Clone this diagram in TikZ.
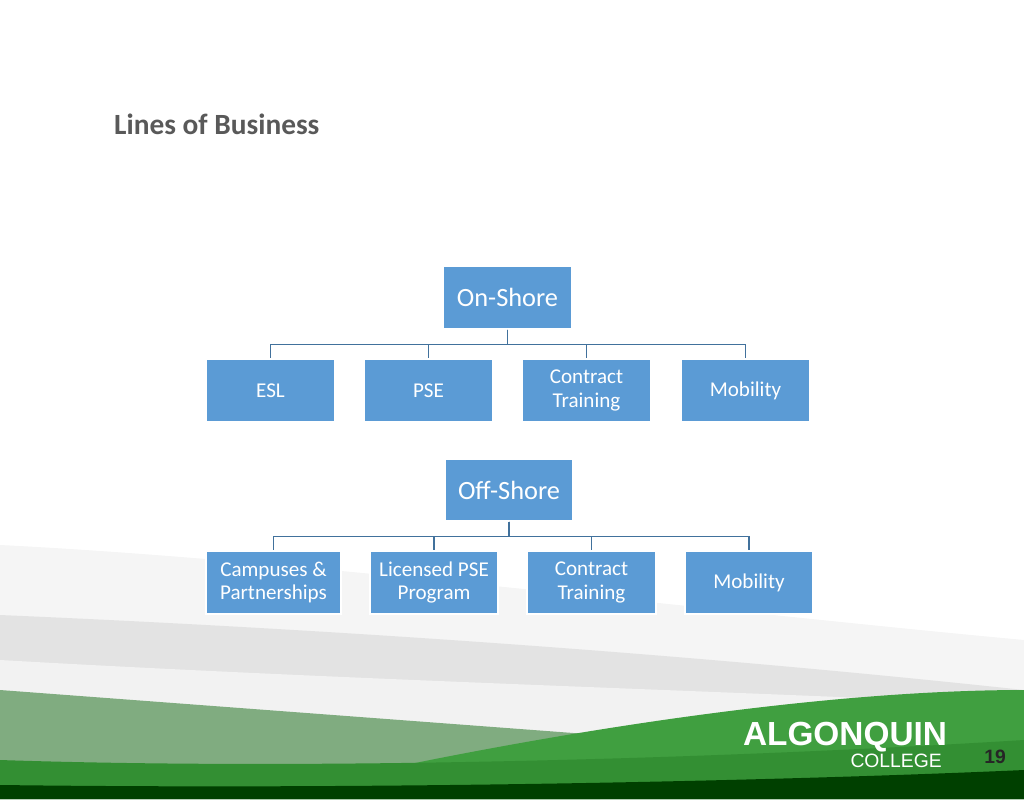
\documentclass[tikz,border=0pt]{standalone}
\usepackage{fontspec}
\setmainfont{Carlito}
\usepackage{tikz}

\begin{document}
\begin{tikzpicture}[x=0.02cm,y=-0.02cm,
	unit/.style={draw=white, line width=0.8pt, fill=boxblue, text=white, inner sep=0pt, align=center, font=\fontsize{12}{13.3}\selectfont},
	head/.style={unit, font=\fontsize{15}{17}\selectfont},
	link/.style={draw=lineblue, line width=0.8pt}
	]
	\definecolor{boxblue}{HTML}{5B9BD5}
	\definecolor{lineblue}{HTML}{41719C}
	\definecolor{titlegray}{HTML}{595959}
	
	\useasboundingbox (0,0) rectangle (1024,799);
	
	%-----------------------
	% Background waves
	%-----------------------
	\fill[gray!8] (0,545) .. controls (300,560) and (700,610) .. (1024,640) -- (1024,799) -- (0,799) -- cycle;
	\fill[gray!22] (0,615) .. controls (350,630) and (700,655) .. (1024,690) -- (1024,799) -- (0,799) -- cycle;
	\fill[gray!10] (0,660) .. controls (350,680) and (700,690) .. (1024,705) -- (1024,799) -- (0,799) -- cycle;
	\fill[green!35!black!50] (0,690) .. controls (200,705) and (400,720) .. (600,735) -- (600,799) -- (0,799) -- cycle;
	\fill[green!50!black!75] (250,799) .. controls (500,740) and (800,690) .. (1024,690) -- (1024,799) -- cycle;
	\fill[green!45!black!80] (0,760) .. controls (300,770) and (700,760) .. (1024,740) -- (1024,799) -- (0,799) -- cycle;
	\fill[green!25!black] (0,785) .. controls (400,790) and (800,780) .. (1024,770) -- (1024,799) -- (0,799) -- cycle;
	
	%-----------------------
	% Title, logo, page number
	%-----------------------
	\node[anchor=west, text=titlegray, font=\fontsize{16.7}{19}\selectfont\bfseries] (title) at (108,124) {Lines of Business};
	\node[text=white, font=\fontspec{Liberation Sans}\bfseries\fontsize{19}{20}\selectfont] (logo) at (845,737) {ALGONQUIN};
	\node[anchor=east, text=white, font=\fontspec{Liberation Sans}\fontsize{11}{12}\selectfont] (college) at (948,761) {COLLEGE};
	\node[text=black!85, font=\fontspec{Liberation Sans}\bfseries\fontsize{11}{12}\selectfont] (page) at (995,757) {19};
	
	%-----------------------
	% On-Shore
	%-----------------------
	\node[head, minimum width=129*0.02cm, minimum height=63*0.02cm] (on) at (507.5,297.5) {On-Shore};
	\node[unit, minimum width=129*0.02cm, minimum height=63*0.02cm] (on-1) at (270.5,390.5) {ESL};
	\node[unit, minimum width=129*0.02cm, minimum height=63*0.02cm] (on-2) at (428.5,390.5) {PSE};
	\node[unit, minimum width=129*0.02cm, minimum height=63*0.02cm] (on-3) at (586.5,390.5) {Contract\\Training};
	\node[unit, minimum width=129*0.02cm, minimum height=63*0.02cm] (on-4) at (745.5,390.5) {Mobility};
	
	%-----------------------
	% Off-Shore
	%-----------------------
	\node[head, minimum width=128*0.02cm, minimum height=62*0.02cm] (off) at (509,490) {Off-Shore};
	\node[unit, minimum width=135*0.02cm, minimum height=63*0.02cm] (off-1) at (273.5,582.5) {Campuses \&\\Partnerships};
	\node[unit, minimum width=128*0.02cm, minimum height=63*0.02cm] (off-2) at (434,582.5) {Licensed PSE\\Program};
	\node[unit, minimum width=129*0.02cm, minimum height=63*0.02cm] (off-3) at (591.5,582.5) {Contract\\Training};
	\node[unit, minimum width=128*0.02cm, minimum height=63*0.02cm] (off-4) at (749,582.5) {Mobility};
	
	%-----------------------
	% Connections
	%-----------------------
	\foreach \i in {1,...,4} {
		\draw[link] (on.south) -- ++(0,15) -| (on-\i.north);
		\draw[link] (off.south) -- ++(0,15) -| (off-\i.north);
	}
	
\end{tikzpicture}
\end{document}
